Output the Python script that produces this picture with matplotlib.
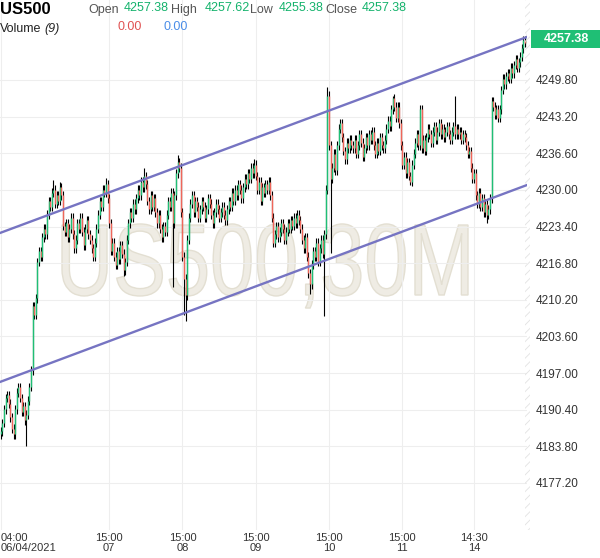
import matplotlib
matplotlib.use('Agg')
import matplotlib.pyplot as plt
from matplotlib.textpath import TextPath
from matplotlib.patches import PathPatch
from matplotlib.font_manager import FontProperties
from matplotlib.transforms import Affine2D
import numpy as np

GREEN = '#1fbf75'
RED = '#f0665a'
INK = '#333333'
GREY = '#555555'
CHANNEL = '#7674c2'
GRID = '#eeeeee'
WATER = '#efece4'

plt.rcParams['font.family'] = ['Liberation Sans', 'DejaVu Sans']

# ---- data: US500 30M closes ----
first_open = 4186.0
closes = [
    4186.5, 4188.0, 4190.5, 4192.5, 4193.0, 4191.5, 4189.0, 4187.0, 4186.0, 4190.5,
    4193.5, 4194.5, 4192.5, 4190.0, 4191.0, 4188.5, 4189.5, 4192.0, 4194.5, 4197.5,
    4209.0, 4207.5, 4210.5, 4217.0, 4219.0, 4218.0, 4221.5, 4223.0, 4222.0, 4225.5,
    4228.0, 4227.0, 4229.5, 4230.0, 4227.5, 4229.0, 4228.0, 4230.5, 4229.0, 4223.5,
    4222.5, 4224.0, 4221.5, 4223.0, 4225.0, 4222.0, 4219.5, 4221.0, 4224.0, 4223.0,
    4225.0, 4222.5, 4220.0, 4223.0, 4224.5, 4222.0, 4221.0, 4219.5, 4218.0, 4220.5,
    4223.0, 4225.5, 4228.0, 4227.0, 4230.0, 4229.5, 4231.0, 4228.5, 4224.0, 4219.0,
    4220.5, 4218.0, 4216.5, 4219.0, 4217.5, 4220.0, 4218.5, 4215.5, 4217.0, 4221.0,
    4224.0, 4226.0, 4225.0, 4227.5, 4226.5, 4228.5, 4230.0, 4229.0, 4231.5, 4230.5,
    4232.5, 4231.0, 4228.0, 4226.5, 4229.0, 4227.0, 4228.5, 4226.0, 4224.0, 4225.5,
    4223.0, 4221.5, 4223.5, 4222.5, 4225.5, 4228.0, 4227.0, 4229.5, 4224.0, 4229.0,
    4233.0, 4235.0, 4234.0, 4226.0, 4218.0, 4214.0, 4211.0, 4221.0, 4225.0, 4227.5,
    4229.0, 4226.0, 4228.0, 4227.0, 4225.0, 4226.5, 4228.0, 4227.0, 4225.0, 4226.5,
    4228.5, 4227.5, 4225.5, 4224.0, 4226.0, 4227.5, 4226.5, 4225.0, 4226.0, 4227.0,
    4225.5, 4224.5, 4226.5, 4228.0, 4227.0, 4229.5, 4228.0, 4230.0, 4229.0, 4231.0,
    4230.0, 4228.5, 4230.5, 4232.0, 4231.0, 4233.0, 4232.0, 4234.0, 4233.0, 4234.5,
    4232.5, 4230.0, 4231.5, 4228.0, 4230.5, 4229.5, 4231.0, 4230.0, 4231.5, 4229.0,
    4225.0, 4220.5, 4222.0, 4223.5, 4221.5, 4222.5, 4224.0, 4223.0, 4221.0, 4222.5,
    4224.0, 4223.0, 4224.5, 4223.5, 4225.0, 4224.0, 4225.5, 4224.5, 4223.0, 4221.0,
    4219.5, 4221.5, 4218.0, 4215.0, 4213.0, 4216.5, 4219.0, 4218.0, 4220.5, 4217.0,
    4219.5, 4221.0, 4218.5, 4222.0, 4230.0, 4247.0, 4238.0, 4232.0, 4234.0, 4236.5,
    4233.5, 4238.0, 4241.0, 4242.0, 4239.5, 4237.0, 4235.5, 4238.5, 4237.5, 4239.0,
    4238.0, 4237.5, 4239.0, 4236.5, 4238.0, 4240.0, 4238.5, 4236.0, 4237.5, 4239.5,
    4238.0, 4240.0, 4239.0, 4240.5, 4238.0, 4236.5, 4238.5, 4237.0, 4239.5, 4238.0,
    4237.5, 4239.0, 4241.0, 4242.5, 4241.5, 4244.5, 4246.5, 4245.0, 4243.0, 4245.0,
    4242.0, 4238.0, 4234.5, 4236.0, 4233.0, 4235.0, 4232.5, 4231.5, 4234.5, 4236.5,
    4238.5, 4240.0, 4238.0, 4244.5, 4237.5, 4239.0, 4237.0, 4239.5, 4241.0, 4240.0,
    4238.5, 4240.5, 4241.5, 4239.0, 4240.5, 4242.0, 4240.0, 4241.0, 4239.5, 4240.5,
    4241.5, 4240.0, 4239.0, 4240.5, 4241.5, 4240.0, 4241.0, 4240.0, 4240.5, 4239.0,
    4240.0, 4239.5, 4238.0, 4236.5, 4237.0, 4234.0, 4232.0, 4233.0, 4229.0, 4227.5,
    4229.5, 4227.0, 4228.5, 4226.0, 4227.5, 4225.5, 4226.5, 4228.5, 4246.0, 4245.0,
    4243.5, 4244.5, 4243.0, 4244.5, 4248.0, 4250.0, 4249.0, 4250.5, 4251.0, 4250.0,
    4252.0, 4251.0, 4252.5, 4253.5, 4252.0, 4253.0, 4254.0, 4255.5, 4257.0, 4256.5,
    4257.38,
]
wick = 0.8  # typical wick beyond the body
# bars whose wicks stand out
spike_highs = {33: 4231.8, 37: 4231.5, 66: 4232.2, 90: 4234.0, 111: 4236.3,
               159: 4235.5, 205: 4248.5, 246: 4246.9, 285: 4247.0}
spike_lows = {16: 4183.8, 77: 4214.5, 108: 4212.5, 115: 4207.5, 116: 4206.3,
              194: 4211.3, 203: 4207.2, 207: 4218.7, 257: 4230.8, 305: 4224.1}

channel_upper = [(-0.5, 4222.24), (330.2, 4257.55)]
channel_lower = [(-0.5, 4195.40), (330.2, 4230.88)]

tick_bars = [0, 68, 114, 160, 206, 252, 297]
tick_labels = ['04:00\n06/04/2021', '15:00\n07', '15:00\n08', '15:00\n09',
               '15:00\n10', '15:00\n11', '14:30\n14']
price_ticks = [4177.20, 4183.80, 4190.40, 4197.00, 4203.60, 4210.20, 4216.80,
               4223.40, 4230.00, 4236.60, 4243.20, 4249.80]

c = np.array(closes)
o = np.r_[first_open, c[:-1]]
hi = np.maximum(o, c) + wick
lo = np.minimum(o, c) - wick
for k, v in spike_highs.items():
    hi[k] = v
for k, v in spike_lows.items():
    lo[k] = v
idx = np.arange(len(c))

W, H = 600, 558
fig = plt.figure(figsize=(W / 100, H / 100), dpi=100, facecolor='white')


def px(x, y):
    return x / W, 1 - y / H


AX_W, AX_H = 527, 530
ax = fig.add_axes([0, 1 - AX_H / H, AX_W / W, AX_H / H])
ax.set_facecolor('white')
ax.set_xlim(-0.5, 330.2)
ax.set_ylim(4168.73, 4264.21)

# watermark, squeezed to the narrow look of the original
prop = FontProperties(family='Liberation Sans')
tp = TextPath((0, 0), 'US500,30M', size=1, prop=prop)
ext = tp.get_extents()
cap = TextPath((0, 0), 'U', size=1, prop=prop).get_extents().ymax
left, right, top, base = 62, 468, 225, 295   # pixel box of the letters
sx = (right - left) / AX_W / ext.width
sy = (base - top) / AX_H / cap
wm_tf = Affine2D().translate(-ext.xmin, 0).scale(sx, sy).translate(left / AX_W, 1 - base / AX_H)
ax.add_patch(PathPatch(tp, transform=wm_tf + ax.transAxes, facecolor=WATER,
                       edgecolor='#e3dfd2', lw=1.0, zorder=0.5))

# candles
ax.vlines(idx, lo, hi, color='black', lw=0.8, zorder=3)
body_col = np.where(c >= o, GREEN, RED)
ax.vlines(idx, np.minimum(o, c), np.maximum(o, c), colors=body_col, lw=1.0, zorder=4)

# trend channel
for pts in (channel_upper, channel_lower):
    ax.axline(pts[0], pts[1], color=CHANNEL, lw=1.7, zorder=5)

ax.set_xticks(tick_bars)
ax.set_xticklabels(tick_labels, fontsize=8, color=INK, linespacing=1.0)
ax.get_xticklabels()[0].set_ha('left')
ax.tick_params(axis='x', length=0, pad=2)
ax.yaxis.tick_right()
ax.set_yticks(price_ticks)
ax.set_yticklabels([f'{p:.2f}' for p in price_ticks], fontsize=8.5, color=INK)
ax.tick_params(axis='y', length=0, pad=6)
ax.grid(color=GRID, lw=0.8)
ax.set_axisbelow(True)
for s in ax.spines.values():
    s.set_visible(False)

# price scale separator
plt.rcParams['hatch.linewidth'] = 0.6
fig.add_artist(plt.Rectangle(px(525, 530), 5 / W, 530 / H, fill=False,
                             hatch='////', edgecolor='#e2e2e2', lw=0,
                             transform=fig.transFigure))

# last price tag
fig.add_artist(plt.Rectangle(px(531, 48), 69 / W, 18 / H, facecolor=GREEN,
                             edgecolor='none', transform=fig.transFigure))
fig.text(*px(566, 39), f'{closes[-1]:.2f}', ha='center', va='center',
         fontsize=9, fontweight='bold', color='white')

# header
fig.text(*px(0, 10), 'US500', ha='left', va='center', fontsize=12,
         fontweight='bold', color='black')
header = [('Open', 88, 124, 4257.38), ('High', 171, 205, 4257.62),
          ('Low', 250, 279, 4255.38), ('Close', 325, 362, 4257.38)]
for name, xl, xv, val in header:
    fig.text(*px(xl, 10), name, ha='left', va='center', fontsize=9, color=GREY)
    fig.text(*px(xv, 8), f'{val:.2f}', ha='left', va='center', fontsize=9,
             color='#13b26b')
fig.text(*px(0, 29), 'Volume', ha='left', va='center', fontsize=9, color='#222222')
fig.text(*px(44, 29), '(9)', ha='left', va='center', fontsize=9,
         style='italic', color='#222222')
fig.text(*px(117, 27), '0.00', ha='left', va='center', fontsize=9, color='#e05252')
fig.text(*px(163, 27), '0.00', ha='left', va='center', fontsize=9, color='#4a8de8')

fig.savefig('out.png', dpi=100, facecolor='white')
